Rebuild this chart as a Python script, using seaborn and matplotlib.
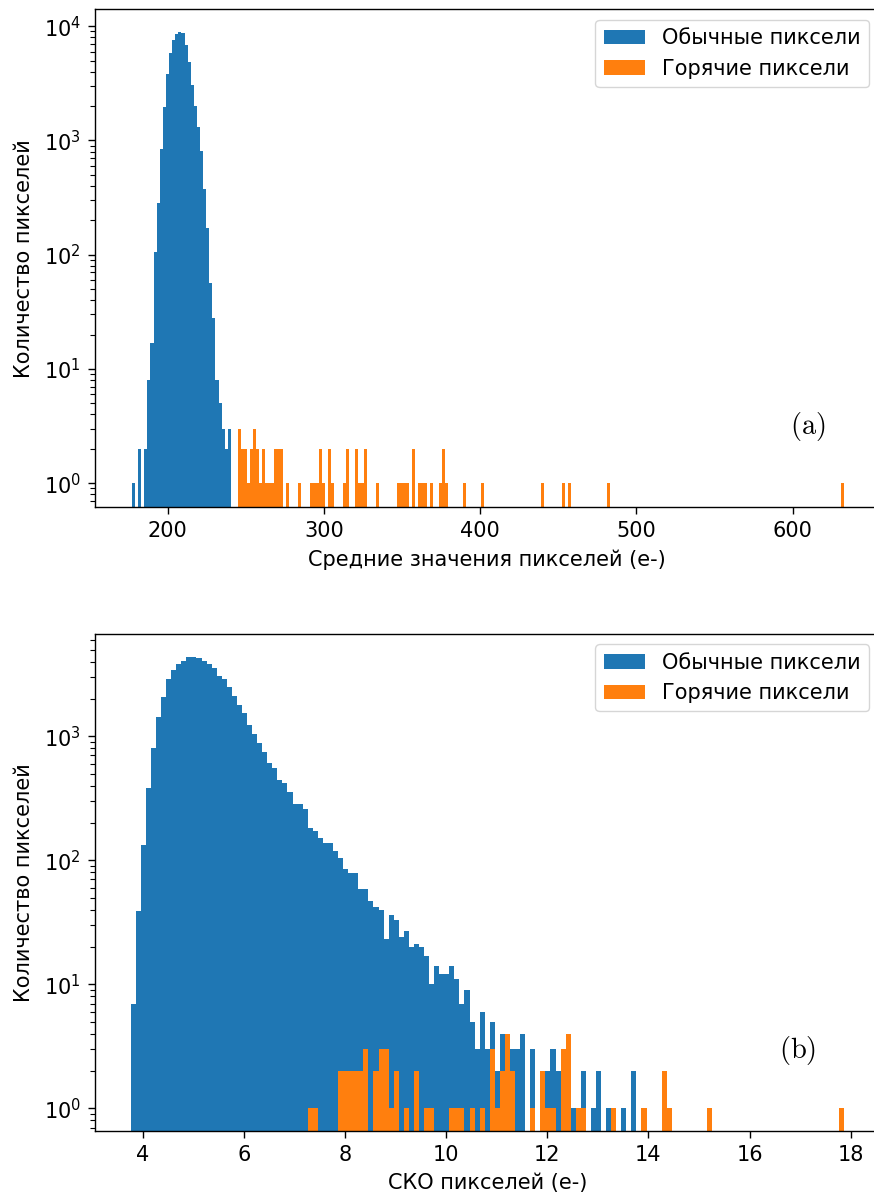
import numpy as np
import pandas as pd
import matplotlib
matplotlib.use("Agg")
import matplotlib.pyplot as plt
import seaborn as sns

# ---- (a) mean pixel values ----
# ordinary pixels: regular bins starting at mean_start, width mean_width
mean_start = 177.1
mean_width = 1.98
mean_normal_counts = [1, 0, 2, 0, 2, 8, 17, 106, 285, 846, 1972, 3800, 5780, 7550, 8520,
                      8830, 8650, 6840, 4820, 3055, 1995, 1320, 807, 376, 172, 57, 28,
                      8, 5, 3, 2, 3]
# hot pixels: bin value and number of pixels
mean_hot_values = [246.0, 247.9, 249.8, 251.7, 253.6, 255.6, 257.5, 259.4, 261.3, 263.2,
                   265.2, 267.1, 269.0, 270.9, 272.8, 276.7, 284.4, 292.0, 294.0, 295.9,
                   297.8, 299.7, 303.6, 305.5, 313.2, 315.1, 320.8, 322.8, 324.7, 326.6,
                   334.3, 347.7, 349.6, 351.6, 353.5, 357.3, 361.2, 363.1, 365.0, 368.8,
                   374.6, 376.5, 378.4, 390.0, 401.5, 439.9, 453.3, 457.2, 482.1, 631.9]
mean_hot_counts = [3, 2, 2, 1, 2, 3, 2, 1, 2, 1,
                   1, 1, 2, 2, 2, 1, 1, 1, 1, 1,
                   2, 1, 2, 1, 1, 2, 2, 1, 1, 2,
                   1, 1, 1, 1, 1, 2, 1, 1, 1, 1,
                   1, 2, 1, 1, 1, 1, 1, 1, 1, 1]
mean_hot_edges = np.linspace(245.0, 632.84, 203)

# ---- (b) pixel standard deviation ----
std_start = 3.763
std_width = 0.1
std_normal_counts = [7, 39, 133, 381, 809, 1423, 2075, 2884, 3445, 3852,
                     4050, 4335, 4335, 4283, 4073, 3852, 3535, 3048, 2884, 2484,
                     2125, 1778, 1550, 1227, 1044, 883, 743, 606, 552, 444,
                     423, 353, 284, 284, 258, 181, 172, 150, 139, 139,
                     119, 104, 85, 79, 79, 59, 59, 47, 42, 40,
                     23, 36, 33, 24, 27, 20, 21, 20, 17, 10,
                     14, 12, 12, 14, 11, 7, 9, 5, 3, 6,
                     3, 5, 2, 4, 3, 3, 3, 4, 0, 3,
                     0, 1, 2, 3, 2, 2, 1, 1, 0, 2,
                     0, 1, 2, 0, 1, 0, 0, 1, 0, 2]
std_hot_values = [7.31, 7.41, 7.91, 8.01, 8.11, 8.21, 8.31, 8.41, 8.61, 8.71,
                  8.81, 8.91, 9.01, 9.21, 9.41, 9.61, 9.71, 10.11, 10.21, 10.31,
                  10.51, 10.71, 10.91, 11.01, 11.11, 11.21, 11.31, 11.71, 11.91, 12.01,
                  12.11, 12.31, 12.41, 12.61, 12.71, 13.31, 13.91, 14.31, 14.41, 15.21,
                  17.81]
std_hot_counts = [1, 1, 2, 2, 2, 2, 2, 3, 2, 3,
                  3, 1, 2, 1, 2, 1, 1, 1, 1, 1,
                  1, 1, 3, 1, 2, 4, 2, 1, 2, 1,
                  1, 3, 4, 1, 1, 1, 1, 2, 1, 1,
                  1]

label_normal = "Обычные пиксели"
label_hot = "Горячие пиксели"
ylabel = "Количество пикселей"
xlabel_a = "Средние значения пикселей (e-)"
xlabel_b = "СКО пикселей (e-)"

C_NORMAL = "#1f77b4"
C_HOT = "#ff7f0e"
FS = 15

plt.rcParams["font.family"] = ["DejaVu Sans"]
plt.rcParams["mathtext.fontset"] = "dejavusans"
plt.rcParams["axes.linewidth"] = 1.0
plt.rcParams["xtick.major.size"] = 5.0
plt.rcParams["ytick.major.size"] = 5.0
plt.rcParams["xtick.major.width"] = 1.0
plt.rcParams["ytick.major.width"] = 1.0
plt.rcParams["ytick.minor.size"] = 3.4
plt.rcParams["ytick.minor.width"] = 0.8
plt.rcParams["xtick.major.pad"] = 5.0
plt.rcParams["ytick.major.pad"] = 5.0


def edges_from(start, width, n):
    return (start + width * np.arange(n + 1)).tolist()


def draw(ax, normal_edges, normal_counts, hot_x, hot_n, hot_edges):
    e = np.asarray(normal_edges)
    normal = pd.DataFrame({"value": (e[:-1] + e[1:]) / 2, "n": normal_counts})
    hot = pd.DataFrame({"value": hot_x, "n": hot_n})
    sns.histplot(data=normal, x="value", weights="n", bins=list(normal_edges),
                 color=C_NORMAL, alpha=1, linewidth=0, ax=ax, label=label_normal)
    sns.histplot(data=hot, x="value", weights="n", bins=list(hot_edges),
                 color=C_HOT, alpha=1, linewidth=0, ax=ax, label=label_hot)
    ax.set_yscale("log")
    ax.set_ylabel(ylabel, fontsize=FS, labelpad=7)
    ax.tick_params(labelsize=FS)
    ax.legend(loc="upper right", fontsize=FS)


fig = plt.figure(figsize=(8.74, 11.98), dpi=100)
ax1 = fig.add_axes([0.1087, 0.5768, 0.8976, 0.4154])
ax2 = fig.add_axes([0.1087, 0.0561, 0.8976, 0.4147])

draw(ax1, edges_from(mean_start, mean_width, len(mean_normal_counts)), mean_normal_counts,
     mean_hot_values, mean_hot_counts, mean_hot_edges)
ax1.set_xlim(153.47, 655.55)
ax1.set_ylim(0.620, 14030)
ax1.set_xlabel(xlabel_a, fontsize=FS, labelpad=6)
ax1.text(609.6, 3.17, r"$\mathrm{(a)}$", fontsize=20.5, ha="center", va="center",
         math_fontfamily="cm")

std_edges = edges_from(std_start, std_width, 141)
draw(ax2, edges_from(std_start, std_width, len(std_normal_counts)), std_normal_counts,
     std_hot_values, std_hot_counts, std_edges[35:])
ax2.set_xlim(3.057, 18.57)
ax2.set_ylim(0.6586, 6683)
ax2.set_xlabel(xlabel_b, fontsize=FS, labelpad=6)
ax2.text(16.95, 2.95, r"$\mathrm{(b)}$", fontsize=20.5, ha="center", va="center",
         math_fontfamily="cm")

fig.savefig("out.png", dpi=100)
